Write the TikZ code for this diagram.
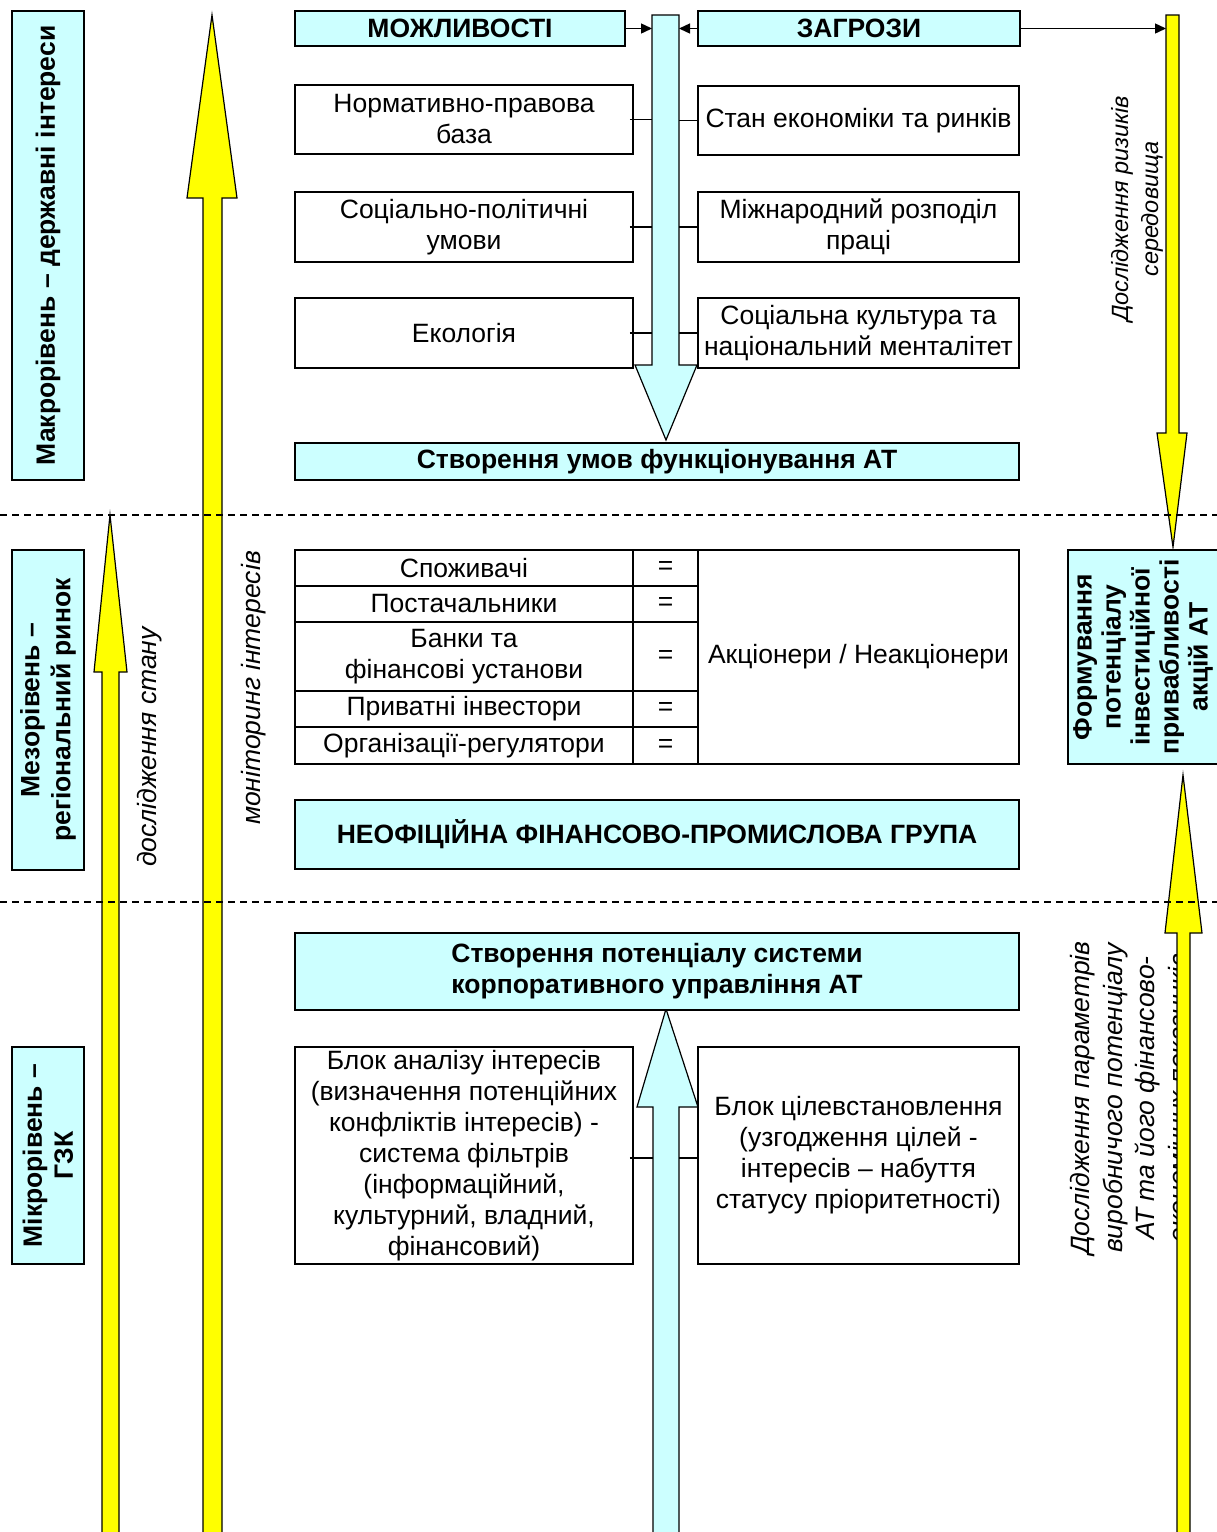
\documentclass[tikz,border=0pt]{standalone}
\usepackage{fontspec}
\setmainfont{Liberation Sans}
\usetikzlibrary{arrows.meta}
\definecolor{cy}{HTML}{CCFFFF}
\definecolor{yl}{HTML}{FFFF00}
\begin{document}
\begin{tikzpicture}[x=1pt,y=-1pt,
  box/.style={draw, line width=1.5pt, fill=white, inner sep=0pt, align=center, font=\fontsize{26.5}{31}\selectfont},
  cbox/.style={box, fill=cy, font=\fontsize{26.5}{31}\selectfont\bfseries},
  lbl/.style={align=center, inner sep=0pt, rotate=90, font=\fontsize{26.5}{31}\selectfont\itshape},
  yarrow/.style={fill=yl, draw=black, line width=1.2pt, line join=miter},
  carrow/.style={fill=cy, draw=black, line width=1.2pt, line join=miter},
  conn/.style={draw=black, line width=1.4pt},
  aconn/.style={conn, -{Triangle[length=11pt,width=10pt]}},
  sep/.style={draw=black, line width=1.4pt, dash pattern=on 7pt off 5pt}
]
\useasboundingbox (0,0) rectangle (1217,1532);
\fill[white] (0,0) rectangle (1217,1532);

% labels under arrows
\node[lbl, font=\fontsize{26.5}{32.5}\selectfont\itshape] (lbpar) at (1129,1098)
  {Дослідження параметрів\\виробничого потенціалу\\АТ та його фінансово-\\економічних показників};

% yellow arrows
\draw[yarrow] (203,1540) -- (203,198) -- (187,198) -- (212,15) -- (237,198) -- (222,198) -- (222,1540) -- cycle;
\draw[yarrow] (102,1540) -- (102,672) -- (94,672) -- (110,515) -- (127,672) -- (119,672) -- (119,1540) -- cycle;
\draw[yarrow] (1166,15) -- (1179,15) -- (1179,433) -- (1187,433) -- (1173,547) -- (1157,433) -- (1166,433) -- cycle;
\draw[yarrow] (1177,1540) -- (1177,933) -- (1165,933) -- (1183,775) -- (1202,933) -- (1190,933) -- (1190,1540) -- cycle;
\coordinate (ycL) at (1166,28);

% cyan arrows
\draw[carrow] (652,15) -- (679,15) -- (679,365) -- (697,365) -- (666,440) -- (635,365) -- (652,365) -- cycle;
\draw[carrow] (653,1540) -- (653,1107) -- (637,1107) -- (666,1009) -- (698,1107) -- (679,1107) -- (679,1540) -- cycle;
\coordinate (dsL) at (652,28);
\coordinate (dsR) at (679,28);
\coordinate (usL) at (653,1158);
\coordinate (usR) at (679,1158);

% level labels
\node[cbox, rotate=90, minimum width=469pt, minimum height=72pt] (macro) at (48,245.5)
  {Макрорівень – державні інтереси};
\node[cbox, rotate=90, minimum width=320pt, minimum height=72pt] (meso) at (48,710)
  {Мезорівень –\\регіональний ринок};
\node[cbox, rotate=90, minimum width=217pt, minimum height=72pt] (micro) at (48,1155.5)
  {Мікрорівень –\\ГЗК};

% italic labels
\node[lbl] (lbstan) at (150,747) {дослідження стану};
\node[lbl] (lbmon) at (254,688) {моніторинг інтересів};
\node[lbl, font=\fontsize{23.5}{30}\selectfont\itshape] (lbriz) at (1137,209) {Дослідження ризиків\\середовища};

% top boxes
\node[cbox, minimum width=330pt, minimum height=35pt] (mozh) at (460,28.5) {МОЖЛИВОСТІ};
\node[cbox, minimum width=322pt, minimum height=35pt] (zagr) at (859,28.5) {ЗАГРОЗИ};
\node[box, minimum width=338pt, minimum height=69pt] (norm) at (464,119.5) {Нормативно-правова\\база};
\node[box, minimum width=321pt, minimum height=69pt] (stan) at (858.5,120.5) {Стан економіки та ринків};
\node[box, minimum width=338pt, minimum height=70pt] (socp) at (464,227) {Соціально-політичні\\умови};
\node[box, minimum width=321pt, minimum height=70pt] (mizh) at (858.5,227) {Міжнародний розподіл\\праці};
\node[box, minimum width=338pt, minimum height=70pt] (ekol) at (464,333) {Екологія};
\node[box, minimum width=321pt, minimum height=70pt] (sock) at (858.5,333) {Соціальна культура та\\національний менталітет};
\node[cbox, minimum width=724pt, minimum height=37pt] (umov) at (657,461.5) {Створення умов функціонування АТ};

% meso table
\node[box, minimum width=338pt, minimum height=36pt] (t1) at (464,568) {Споживачі};
\node[box, minimum width=65pt, minimum height=36pt] (e1) at (665.5,568) {=};
\node[box, minimum width=338pt, minimum height=36pt] (t2) at (464,604) {Постачальники};
\node[box, minimum width=65pt, minimum height=36pt] (e2) at (665.5,604) {=};
\node[box, minimum width=338pt, minimum height=69pt] (t3) at (464,656.5) {Банки та\\фінансові установи};
\node[box, minimum width=65pt, minimum height=69pt] (e3) at (665.5,656.5) {=};
\node[box, minimum width=338pt, minimum height=36pt] (t4) at (464,709) {Приватні інвестори};
\node[box, minimum width=65pt, minimum height=36pt] (e4) at (665.5,709) {=};
\node[box, minimum width=338pt, minimum height=37pt] (t5) at (464,745.5) {Організації-регулятори};
\node[box, minimum width=65pt, minimum height=37pt] (e5) at (665.5,745.5) {=};
\node[box, minimum width=321pt, minimum height=214pt] (akc) at (858.5,657) {Акціонери / Неакціонери};

\node[cbox, rotate=90, minimum width=214pt, minimum height=150pt, font=\fontsize{26.5}{29}\selectfont\bfseries] (form) at (1143,657)
  {Формування\\потенціалу\\інвестиційної\\привабливості\\акцій АТ};

\node[cbox, minimum width=724pt, minimum height=69pt] (nfpg) at (657,834.5) {НЕОФІЦІЙНА ФІНАНСОВО-ПРОМИСЛОВА ГРУПА};

% micro level
\node[cbox, minimum width=724pt, minimum height=77pt] (potc) at (657,971.5) {Створення потенціалу системи\\корпоративного управління АТ};
\node[box, minimum width=338pt, minimum height=217pt] (blan) at (464,1155.5)
  {Блок аналізу інтересів\\(визначення потенційних\\конфліктів інтересів) -\\система фільтрів\\(інформаційний,\\культурний, владний,\\фінансовий)};
\node[box, minimum width=321pt, minimum height=217pt] (blcil) at (858.5,1155.5)
  {Блок цілевстановлення\\(узгодження цілей -\\інтересів – набуття\\статусу пріоритетності)};

% connectors
\draw[aconn] (mozh.east) -- (mozh.east -| dsL);
\draw[aconn] (zagr.west) -- (zagr.west -| dsR);
\draw[aconn] (zagr.east) -- (zagr.east -| ycL);
\draw[conn] ([xshift=-4pt]norm.east) -- (norm.east -| dsL);
\draw[conn] ([xshift=-4pt]socp.east) -- (socp.east -| dsL);
\draw[conn] ([xshift=-4pt]ekol.east) -- (ekol.east -| dsL);
\draw[conn] (stan.west) -- (stan.west -| dsR);
\draw[conn] (mizh.west) -- (mizh.west -| dsR);
\draw[conn] (sock.west) -- (sock.west -| dsR);
\draw[conn] ([xshift=-4pt]blan.east |- usL) -- (usL);
\draw[conn] (usR) -- (blcil.west |- usR);

% level separators
\draw[sep] (0,515) -- (1217,515);
\draw[sep] (0,902) -- (1217,902);
\end{tikzpicture}
\end{document}
